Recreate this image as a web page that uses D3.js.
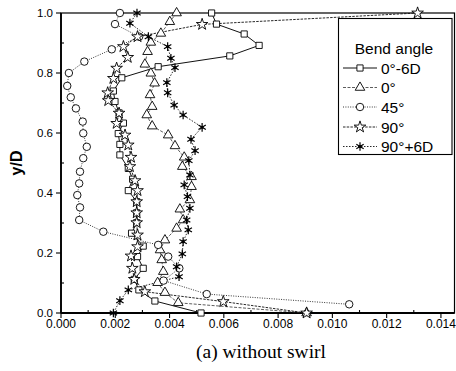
<!DOCTYPE html>
<html>
<head>
<meta charset="utf-8">
<script src="https://cdn.jsdelivr.net/npm/d3@7"></script>
<style>
  html, body { margin: 0; padding: 0; background: #fff; }
  svg { display: block; }
</style>
</head>
<body>
<svg id="chart" width="456" height="371"></svg>
<script>
// Turbulence profiles across the pipe (y/D) for several bend positions
const seriesNames = ["0°-6D", "0°", "45°", "90°", "90°+6D"];

const sqY = [1.0, 0.963, 0.93, 0.892, 0.857, 0.821, 0.784, 0.740, 0.705, 0.667, 0.633, 0.598, 0.562, 0.527, 0.482, 0.446, 0.408, 0.371, 0.334, 0.301, 0.266, 0.223, 0.188, 0.149, 0.112, 0.077, 0.040, 0.0];
const sqX = [0.00555, 0.00573, 0.00675, 0.0073, 0.00622, 0.00358, 0.00224, 0.00193, 0.00199, 0.00214, 0.0023, 0.00211, 0.00217, 0.00217, 0.00248, 0.00264, 0.00248, 0.00279, 0.00279, 0.00279, 0.0026, 0.00303, 0.00282, 0.00303, 0.0027, 0.00287, 0.00346, 0.00516];

const triY = [1.0, 0.971, 0.932, 0.902, 0.871, 0.829, 0.799, 0.766, 0.727, 0.688, 0.66, 0.623, 0.593, 0.557, 0.519, 0.488, 0.454, 0.421, 0.377, 0.346, 0.31, 0.282, 0.243, 0.21, 0.177, 0.138, 0.101, 0.068, 0.034, 0.0];
const triX = [0.00426, 0.00401, 0.00368, 0.00331, 0.00319, 0.00309, 0.00331, 0.00345, 0.00328, 0.00336, 0.00316, 0.00336, 0.00395, 0.0042, 0.00454, 0.00447, 0.00481, 0.00481, 0.00475, 0.00438, 0.0045, 0.00426, 0.00383, 0.00365, 0.00371, 0.00377, 0.00356, 0.00383, 0.00432, 0.00905];

const cirY = [1.0, 0.963, 0.921, 0.879, 0.838, 0.80, 0.757, 0.719, 0.682, 0.638, 0.599, 0.554, 0.516, 0.471, 0.432, 0.393, 0.352, 0.31, 0.271, 0.227, 0.188, 0.149, 0.108, 0.063, 0.029];
const cirX = [0.00217, 0.00199, 0.00288, 0.00187, 0.00086, 0.00029, 0.00023, 0.00036, 0.00055, 0.0008, 0.00082, 0.00095, 0.00082, 0.0007, 0.00067, 0.0006, 0.0007, 0.00067, 0.00156, 0.00358, 0.00395, 0.00436, 0.00378, 0.00537, 0.01062];

const starY = [1.0, 0.962, 0.921, 0.888, 0.852, 0.816, 0.782, 0.734, 0.708, 0.666, 0.632, 0.593, 0.56, 0.519, 0.488, 0.441, 0.408, 0.371, 0.334, 0.301, 0.26, 0.221, 0.19, 0.149, 0.112, 0.071, 0.038, 0.0];
const starX = [0.01314, 0.0052, 0.00282, 0.0023, 0.00246, 0.00205, 0.00193, 0.00172, 0.00174, 0.00214, 0.00205, 0.00236, 0.00248, 0.00258, 0.00254, 0.00273, 0.00282, 0.00279, 0.00279, 0.00279, 0.00282, 0.00282, 0.00258, 0.00263, 0.0027, 0.00309, 0.00598, 0.00905];

const astY = [1.0, 0.966, 0.921, 0.888, 0.849, 0.818, 0.768, 0.734, 0.693, 0.66, 0.619, 0.579, 0.541, 0.508, 0.46, 0.427, 0.388, 0.349, 0.31, 0.277, 0.238, 0.197, 0.154, 0.121, 0.077, 0.041, 0.0];
const astX = [0.0028, 0.00254, 0.00322, 0.00393, 0.00405, 0.0042, 0.0039, 0.00393, 0.00417, 0.0045, 0.0052, 0.00479, 0.00494, 0.00471, 0.00475, 0.00454, 0.00466, 0.00475, 0.00463, 0.00469, 0.0045, 0.00447, 0.00426, 0.00435, 0.00248, 0.00217, 0.00193];

const xTicks = [0, 0.002, 0.004, 0.006, 0.008, 0.010, 0.012, 0.014];
const yTicks = [0, 0.2, 0.4, 0.6, 0.8, 1.0];

const svg = d3.select("#chart");
const plotL = 61, plotR = 454.5, plotT = 13, plotB = 313;

const x = d3.scaleLinear().domain([0, 0.0145]).range([plotL, plotR]);
const y = d3.scaleLinear().domain([0, 1]).range([plotB, plotT]);

// custom asterisk: vertical bar plus an X, with a small filled hub
const asterisk = {
  draw(ctx, size) {
    const r = Math.sqrt(size) * 0.6;
    const d = r * 0.85;
    ctx.moveTo(0, -r); ctx.lineTo(0, r);
    ctx.moveTo(-d, -d * 0.6); ctx.lineTo(d, d * 0.6);
    ctx.moveTo(-d, d * 0.6); ctx.lineTo(d, -d * 0.6);
  }
};

const series = [
  { name: seriesNames[0], xs: sqX, ys: sqY, sym: d3.symbolSquare, size: 38, dash: null, stroke: "#111", w: 1.0 },
  { name: seriesNames[1], xs: triX, ys: triY, sym: d3.symbolTriangle, size: 40, dash: "3,1.5", stroke: "#333", w: 0.8 },
  { name: seriesNames[2], xs: cirX, ys: cirY, sym: d3.symbolCircle, size: 44, dash: "1,1.4", stroke: "#222", w: 0.9 },
  { name: seriesNames[3], xs: starX, ys: starY, sym: d3.symbolStar, size: 42, dash: "2.5,1.2", stroke: "#111", w: 0.9 },
  { name: seriesNames[4], xs: astX, ys: astY, sym: asterisk, size: 52, dash: "1.5,1.5", stroke: "#111", w: 0.9 }
];

// axis ticks: majors outward, minors inward
const xMinor = d3.range(0, 0.01451, 0.001);
const yMinor = d3.range(0, 1.0001, 0.1);
const tickG = svg.append("g").attr("stroke", "#000").attr("stroke-width", 1.1);
xMinor.forEach((v, i) => {
  const major = i % 2 === 0;
  tickG.append("line")
    .attr("x1", x(v)).attr("x2", x(v))
    .attr("y1", plotB)
    .attr("y2", major ? plotB + 5 : plotB - 3);
});
yMinor.forEach((v, i) => {
  const major = i % 2 === 0;
  tickG.append("line")
    .attr("y1", y(v)).attr("y2", y(v))
    .attr("x1", plotL)
    .attr("x2", major ? plotL - 5 : plotL + 3);
});

// frame
svg.append("rect")
  .attr("x", plotL).attr("y", plotT)
  .attr("width", plotR - plotL).attr("height", plotB - plotT)
  .attr("fill", "none").attr("stroke", "#000").attr("stroke-width", 1.2);
svg.append("line").attr("x1", plotL).attr("x2", plotL).attr("y1", plotT).attr("y2", plotB)
  .attr("stroke", "#000").attr("stroke-width", 1.8);
svg.append("line").attr("x1", plotL).attr("x2", plotR).attr("y1", plotB).attr("y2", plotB)
  .attr("stroke", "#000").attr("stroke-width", 1.8);

// tick labels
const tickFont = "Liberation Sans, Arial, sans-serif";
svg.append("g").selectAll("text").data(xTicks).join("text")
  .attr("x", d => x(d)).attr("y", plotB + 15)
  .attr("text-anchor", "middle").attr("font-family", tickFont).attr("font-size", 12)
  .text(d => d3.format(".3f")(d));
svg.append("g").selectAll("text").data(yTicks).join("text")
  .attr("x", plotL - 8).attr("y", d => y(d) + 4)
  .attr("text-anchor", "end").attr("font-family", tickFont).attr("font-size", 11.5)
  .text(d => d3.format(".1f")(d));

// axis title and caption
svg.append("text")
  .attr("transform", `translate(${22},${y(0.5)}) rotate(-90)`)
  .attr("text-anchor", "middle").attr("font-family", tickFont)
  .attr("font-weight", "bold").attr("font-size", 16)
  .text("y/D");
svg.append("text")
  .attr("x", 261).attr("y", 358)
  .attr("text-anchor", "middle").attr("font-family", "Liberation Serif, Times New Roman, serif")
  .attr("font-size", 19.5)
  .text("(a) without swirl");

// series lines and markers
const plot = svg.append("g");
series.forEach(s => {
  const pts = s.xs.map((v, i) => [v, s.ys[i]]);
  plot.append("path")
    .datum(pts)
    .attr("fill", "none").attr("stroke", s.stroke).attr("stroke-width", s.w)
    .attr("stroke-dasharray", s.dash)
    .attr("d", d3.line().x(d => x(d[0])).y(d => y(d[1])));
});
series.forEach(s => {
  const pts = s.xs.map((v, i) => [v, s.ys[i]]);
  plot.append("g").selectAll("path").data(pts).join("path")
    .attr("transform", d => `translate(${x(d[0])},${y(d[1])})`)
    .attr("d", d3.symbol().type(s.sym).size(s.size))
    .attr("fill", s.sym === asterisk ? "none" : "#fff")
    .attr("stroke", "#000").attr("stroke-width", s.sym === asterisk ? 1.2 : 0.9);
  if (s.sym === asterisk) {
    plot.append("g").selectAll("circle").data(pts).join("circle")
      .attr("cx", d => x(d[0])).attr("cy", d => y(d[1])).attr("r", 1.5).attr("fill", "#000");
  }
});

// legend
const lg = svg.append("g");
lg.append("rect").attr("x", 338.5).attr("y", 18.5).attr("width", 113.5).attr("height", 136)
  .attr("fill", "#fff").attr("stroke", "#000").attr("stroke-width", 1.1);
lg.append("text").attr("x", 394).attr("y", 53.5).attr("text-anchor", "middle")
  .attr("font-family", tickFont).attr("font-size", 15.5).text("Bend angle");
const rowY = [68, 87.5, 107, 127, 146.5];
series.forEach((s, i) => {
  const ry = rowY[i];
  lg.append("line").attr("x1", 343).attr("x2", 377).attr("y1", ry).attr("y2", ry)
    .attr("stroke", s.stroke).attr("stroke-width", s.w).attr("stroke-dasharray", s.dash);
  lg.append("path").attr("transform", `translate(360,${ry})`)
    .attr("d", d3.symbol().type(s.sym).size(s.size))
    .attr("fill", s.sym === asterisk ? "none" : "#fff")
    .attr("stroke", "#000").attr("stroke-width", s.sym === asterisk ? 1.2 : 0.9);
  if (s.sym === asterisk) {
    lg.append("circle").attr("cx", 360).attr("cy", ry).attr("r", 1.5).attr("fill", "#000");
  }
  lg.append("text").attr("x", 381).attr("y", ry + 5.5)
    .attr("font-family", tickFont).attr("font-size", 15.5).text(s.name);
});
</script>
</body>
</html>
